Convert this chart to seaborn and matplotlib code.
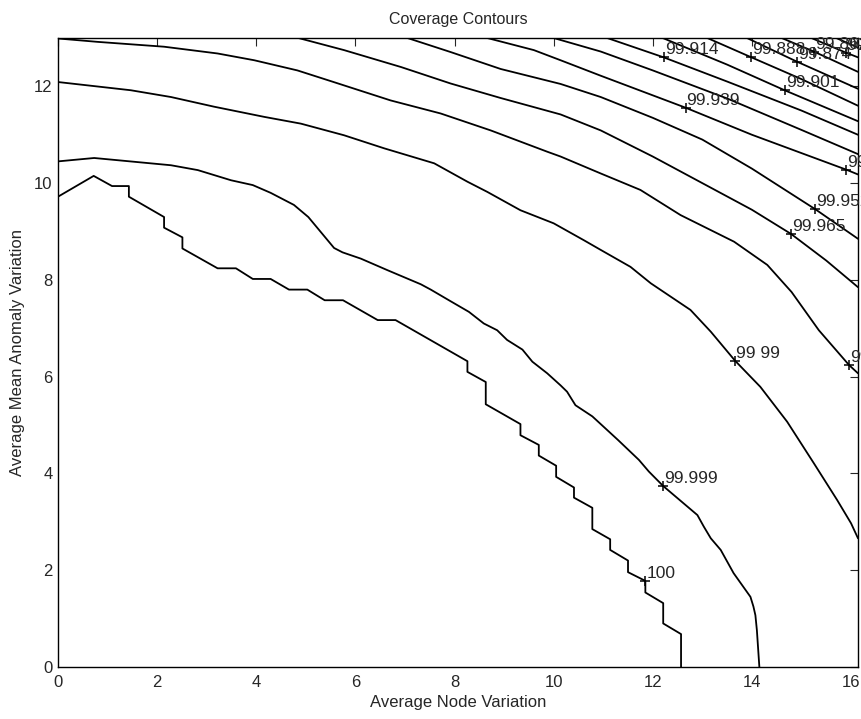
import matplotlib
matplotlib.use("Agg")
import matplotlib.pyplot as plt
import seaborn as sns
import pandas as pd

# ---- contour polylines (x = node var., y = mean anomaly var.) ----
c100_x = [0.0, 0.72, 1.09, 1.43, 1.43, 2.14, 2.14, 2.51, 2.51, 3.22, 3.59, 3.93, 4.29, 4.66, 5.03,
          5.38, 5.75, 6.45, 6.81, 8.26, 8.26, 8.63, 8.63, 9.33, 9.33, 9.70, 9.70, 10.05, 10.05,
          10.41, 10.41, 10.78, 10.78, 11.14, 11.14, 11.50, 11.50, 11.85, 11.85, 12.21, 12.21,
          12.57, 12.57]
c100_y = [9.72, 10.15, 9.94, 9.94, 9.72, 9.30, 9.08, 8.88, 8.65, 8.24, 8.24, 8.02, 8.02, 7.80, 7.80,
          7.58, 7.58, 7.17, 7.17, 6.32, 6.10, 5.89, 5.43, 5.02, 4.79, 4.59, 4.37, 4.16, 3.93,
          3.71, 3.50, 3.29, 2.85, 2.64, 2.42, 2.20, 1.96, 1.78, 1.54, 1.32, 0.90,
          0.68, 0.0]

c99999_x = [0.0, 0.73, 2.28, 2.82, 3.49, 3.93, 4.29, 4.76, 5.05, 5.57, 5.74, 6.11, 6.65, 7.32, 7.52,
            7.92, 8.29, 8.59, 8.86, 9.06, 9.37, 9.57, 9.87, 10.14, 10.27, 10.44, 10.78, 11.30,
            11.72, 11.92, 12.21, 12.90, 13.03, 13.17, 13.37, 13.63, 13.97, 14.03, 14.07, 14.10, 14.15]
c99999_y = [10.45, 10.52, 10.37, 10.27, 10.06, 9.96, 9.80, 9.55, 9.30, 8.66, 8.57, 8.44, 8.20, 7.91, 7.80,
            7.56, 7.34, 7.10, 6.96, 6.76, 6.56, 6.31, 6.07, 5.82, 5.69, 5.41, 5.18, 4.69,
            4.28, 4.04, 3.74, 3.14, 2.90, 2.66, 2.42, 1.94, 1.45, 1.25, 1.07, 0.76, 0.0]

c9999_x = [0.0, 1.47, 2.28, 3.15, 4.16, 4.90, 5.77, 6.58, 7.59, 8.26, 8.66, 9.33, 10.0, 10.61, 10.95,
           11.55, 11.96, 12.76, 13.17, 13.66, 14.17, 14.71, 15.25, 15.72, 16.0, 16.14]
c9999_y = [12.09, 11.92, 11.78, 11.58, 11.37, 11.23, 10.99, 10.72, 10.41, 10.03, 9.82, 9.44, 9.17, 8.82, 8.62,
           8.27, 7.93, 7.38, 6.93, 6.33, 5.79, 5.07, 4.21, 3.45, 2.97, 2.66]

c99977_x = [0.0, 0.80, 2.14, 3.22, 3.96, 4.83, 5.50, 6.71, 7.72, 8.73, 9.87, 10.14, 10.95, 11.75, 12.56,
            13.64, 14.31, 14.80, 15.35, 15.96, 16.14]
c99977_y = [12.99, 12.92, 12.82, 12.68, 12.54, 12.33, 12.11, 11.71, 11.44, 11.09, 10.65, 10.55, 10.20, 9.86, 9.34,
            8.79, 8.31, 7.75, 6.96, 6.24, 6.07]

c99965_x = [4.85, 5.77, 6.92, 7.92, 8.93, 10.14, 10.95, 12.0, 13.0, 14.0, 14.79, 15.5, 16.14]
c99965_y = [13.0, 12.75, 12.40, 12.06, 11.76, 11.42, 11.09, 10.55, 10.0, 9.45, 8.95, 8.40, 7.85]

c99952_x = [7.05, 7.92, 8.93, 10.14, 10.95, 12.0, 13.0, 14.0, 15.28, 16.14]
c99952_y = [13.0, 12.71, 12.36, 12.05, 11.78, 11.35, 10.90, 10.30, 9.46, 8.85]

c99939_x = [8.66, 9.6, 10.14, 10.95, 12.66, 14.0, 15.9, 16.14]
c99939_y = [13.0, 12.75, 12.54, 12.22, 11.56, 11.0, 10.28, 10.18]

c99926_x = [10.0, 10.95, 12.0, 13.5, 15.0, 16.14]
c99926_y = [13.0, 12.72, 12.33, 11.75, 11.10, 10.60]

c99914_x = [11.08, 12.22, 13.5, 15.0, 16.14]
c99914_y = [13.0, 12.6, 12.1, 11.5, 11.0]

c99901_x = [12.2, 13.5, 14.66, 16.14]
c99901_y = [13.0, 12.45, 11.92, 11.28]

c99888_x = [13.1, 13.99, 15.0, 16.14]
c99888_y = [13.0, 12.6, 12.15, 11.6]

c99875_x = [13.9, 14.91, 16.14]
c99875_y = [13.0, 12.51, 11.95]

c99862_x = [14.6, 15.25, 16.14]
c99862_y = [13.0, 12.72, 12.3]

c99849_x = [15.2, 15.89, 16.14]
c99849_y = [13.0, 12.70, 12.6]

c99836_x = [15.7, 16.14]
c99836_y = [13.0, 12.8]

contours = [
    (c100_x, c100_y), (c99999_x, c99999_y), (c9999_x, c9999_y), (c99977_x, c99977_y),
    (c99965_x, c99965_y), (c99952_x, c99952_y), (c99939_x, c99939_y), (c99926_x, c99926_y),
    (c99914_x, c99914_y), (c99901_x, c99901_y), (c99888_x, c99888_y), (c99875_x, c99875_y),
    (c99862_x, c99862_y), (c99849_x, c99849_y), (c99836_x, c99836_y),
]

# ---- contour labels (text, position of the '+') ----
label_text = ["100", "99.999", "99 99", "99.977", "99.965", "99.952", "99.939", "99.939",
              "99.914", "99.901", "99.888", "99.874", "99.862", "99.849"]
label_x = [11.85, 12.21, 13.66, 15.96, 14.79, 15.28, 15.90, 12.66, 12.22, 14.66, 13.99, 14.91, 15.25, 15.89]
label_y = [1.78, 3.74, 6.33, 6.24, 8.95, 9.46, 10.28, 11.56, 12.60, 11.92, 12.60, 12.51, 12.72, 12.70]

x_ticks = [0, 2, 4, 6, 8, 10, 12, 14, 16]
y_ticks = [0, 2, 4, 6, 8, 10, 12]

sns.set_style("white")
plt.rcParams["font.family"] = ["Liberation Sans", "DejaVu Sans"]

fig = plt.figure(figsize=(8.61, 7.19), dpi=100)
ax = fig.add_axes([58 / 861, 1 - 667 / 719, 800 / 861, 629 / 719])

for i, (xs, ys) in enumerate(contours):
    df = pd.DataFrame({"x": xs, "y": ys})
    sns.lineplot(data=df, x="x", y="y", sort=False, estimator=None, color="black",
                 linewidth=1.3, ax=ax)

for t, lx, ly in zip(label_text, label_x, label_y):
    ax.plot([lx], [ly], marker="+", color="black", markersize=6.5, markeredgewidth=1.1, clip_on=False)
    ax.text(lx + 0.02, ly + 0.06, t, fontsize=12.5, ha="left", va="baseline", clip_on=False)

ax.set_xlim(0, 16.14)
ax.set_ylim(0, 13)
ax.set_xticks(x_ticks)
ax.set_yticks(y_ticks)
ax.tick_params(direction="in", length=6, width=0.8, top=True, right=True, labelsize=12)
ax.tick_params(axis="x", pad=6)
ax.tick_params(axis="y", pad=4)
for s in ax.spines.values():
    s.set_visible(True)
    s.set_color("black")
    s.set_linewidth(1.0)
ax.set_xlabel("Average Node Variation", fontsize=12, labelpad=3)
ax.set_ylabel("Average Mean Anomaly Variation", fontsize=12, labelpad=6)
ax.set_title("Coverage Contours", fontsize=11.5, pad=10)

fig.savefig("out.png", dpi=100, facecolor="white")
